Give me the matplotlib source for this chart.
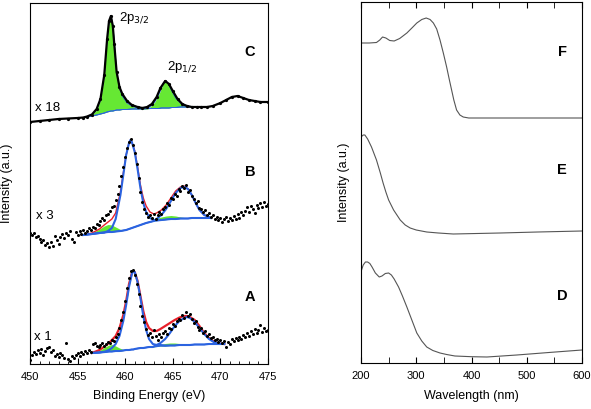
import numpy as np
import matplotlib
matplotlib.use("Agg")
import matplotlib.pyplot as plt
from matplotlib.ticker import MultipleLocator

plt.rcParams['font.family'] = ['Liberation Sans', 'DejaVu Sans']

# ---------------- XPS data (binding energy in eV, intensity in arbitrary offset units)
# spectrum C (x18): dense line
C_x = [450.0, 451.0, 452.0, 453.0, 454.0, 455.0, 455.6, 456.0, 456.5, 457.0, 457.4, 457.8,
       458.1, 458.3, 458.5, 458.7, 458.85, 459.1, 459.4, 459.7, 460.2, 460.7, 461.3, 461.8,
       462.3, 462.8, 463.3, 463.7, 464.2, 464.6, 465.0, 465.5, 466.0, 466.5, 467.0, 467.5,
       468.0, 468.6, 469.2, 470.0, 470.6, 471.2, 471.8, 472.4, 473.0, 473.6, 474.2, 475.0]
C_y = [242, 243, 244, 245, 245.5, 246, 246.5, 247.5, 249.5, 255, 265, 289,
       325, 343, 348, 338, 320, 292, 277, 270, 263, 259, 257, 256,
       257, 260, 267, 276, 283, 280, 273, 265, 260, 258, 257, 257,
       257, 257, 258, 261, 264, 267, 268, 266, 264, 263, 262, 262]

# spectrum B (x3) and A (x1): scattered points every 0.2 eV from 450 to 475
B_y = [131, 129, 131, 127, 128, 125, 122, 124, 119, 121,
       117, 122, 118, 128, 124, 120, 127, 130, 126, 131,
       129, 133, 125, 122, 132, 129, 133, 130, 134, 131,
       133, 136, 134, 137, 136, 140, 139, 143, 146, 144,
       149, 150, 153, 157, 158, 164, 170, 178, 188, 197,
       207, 216, 222, 225, 219, 211, 200, 186, 172, 162,
       155, 151, 147, 149, 146, 150, 145, 149, 152, 150,
       155, 157, 161, 159, 166, 165, 170, 168, 175, 173,
       178, 176, 179, 172, 174, 168, 165, 161, 163, 156,
       155, 152, 154, 149, 151, 147, 149, 145, 147, 144,
       146, 142, 145, 147, 143, 146, 144, 148, 145, 150,
       146, 152, 149, 153, 157, 152, 158, 155, 151, 159,
       156, 161, 157, 162, 158, 160]
A_y = [4, 9, 12, 10, 14, 11, 15, 9, 13, 16,
       17, 12, 14, 8, 10, 7, 11, 9, 6, 21,
       5, 3, 8, 6, 9, 11, 8, 12, 10, 13,
       11, 14, 12, 20, 21, 18, 17, 19, 21, 18,
       20, 22, 21, 24, 23, 27, 30, 36, 44, 52,
       63, 76, 86, 93, 94, 89, 80, 70, 58, 48,
       42, 35, 29, 31, 27, 34, 28, 24, 30, 27,
       31, 33, 30, 36, 35, 40, 38, 43, 45, 44,
       49, 46, 52, 48, 50, 45, 41, 43, 37, 34,
       36, 31, 33, 28, 30, 26, 27, 24, 25, 22,
       24, 21, 23, 17, 22, 20, 25, 23, 26, 24,
       27, 25, 29, 27, 31, 28, 33, 30, 35, 31,
       34, 39, 32, 36, 33, 34]
scan_x = np.round(450.0 + 0.2 * np.arange(len(B_y)), 1)

# fit curves for C
Cf_x = [455.6, 456.0, 456.5, 457.0, 457.4, 457.8, 458.1, 458.3, 458.5, 458.7, 458.9, 459.1,
        459.4, 459.7, 460.2, 460.7, 461.3, 462.0, 462.6, 463.1, 463.5, 463.8, 464.0, 464.2,
        464.4, 464.6, 464.9, 465.3, 465.8, 466.3, 466.8]
Cf_base = [246, 247, 248, 249, 250, 251, 252, 252.5, 253, 253, 253.5, 254,
           254, 254.5, 254.5, 255, 255, 255, 255.5, 255.5, 255.5, 256, 256, 256,
           256, 256, 256.5, 256.5, 257, 257, 257]
Cf_p1 = [246, 247.5, 249.5, 254, 264, 288, 324, 342, 348, 339, 316, 292,
         276, 268, 261, 258, 256, 255.5, 255.5, 255.5, 255.5, 256, 256, 256,
         256, 256, 256.5, 256.5, 257, 257, 257]
Cf_p2 = [246, 247, 248, 249, 250, 251, 252, 252.5, 253, 253, 253.5, 254,
         254, 254.5, 254.5, 255, 255, 255.5, 257, 262, 269, 276, 281, 283,
         282, 279, 273, 266, 261, 258.5, 257.5]

# fit curves for B
Bf_x = [455.6, 456.5, 457.3, 457.8, 458.2, 458.6, 459.0, 459.5, 459.8, 460.1, 460.4, 460.55,
        460.7, 461.0, 461.3, 461.6, 461.9, 462.2, 462.6, 463.0, 463.3, 463.8, 464.3, 464.8,
        465.3, 465.8, 466.2, 466.6, 467.0, 467.4, 467.8, 468.3, 468.8, 469.0]
Bf_base = [129, 130, 131, 131.5, 132, 132, 132.5, 133, 133.5, 134, 135, 135.5,
           136, 137, 138, 139, 140, 141, 142, 143, 143.5, 144, 144.5, 145,
           145, 145.5, 145.5, 145.5, 146, 146, 146, 146, 146, 146]
Bf_s1 = [129, 131, 135, 138, 139.5, 139, 137, 134.5, 133.5, 134, 135, 135.5,
         136, 137, 138, 139, 140, 141, 142, 143, 143.5, 144, 144.5, 145,
         145, 145.5, 145.5, 145.5, 146, 146, 146, 146, 146, 146]
Bf_s2 = [129, 130, 131, 131.5, 132, 132, 132.5, 133, 133.5, 134, 135, 135.5,
         136, 137, 138, 139, 140, 141, 142, 144, 145.5, 147, 148, 148.5,
         148, 147, 146.5, 145.5, 146, 146, 146, 146, 146, 146]
Bf_p1 = [129, 130, 131, 131.5, 133, 136, 145, 169, 189, 209, 221, 224,
         222, 212, 195, 176, 161, 152, 146, 144, 143.5, 144, 144.5, 145,
         145, 145.5, 145.5, 145.5, 146, 146, 146, 146, 146, 146]
Bf_p2 = [129, 130, 131, 131.5, 132, 132, 132.5, 133, 133.5, 134, 135, 135.5,
         136, 137, 138, 139, 140, 141, 142, 143, 145, 149, 155, 163,
         171, 176, 177, 175, 169, 161, 154, 149, 147, 146]
Bf_env = [129, 131, 135, 139, 142, 145, 151, 172, 191, 209, 221, 224,
          222, 213, 197, 179, 166, 158, 152, 150, 151, 154, 159, 166,
          173, 177, 178, 175, 169, 161, 154, 149, 147, 146]

# fit curves for A
Af_x = [456.5, 457.3, 457.9, 458.3, 458.6, 459.0, 459.4, 459.8, 460.1, 460.4, 460.7, 460.85,
        461.0, 461.3, 461.6, 461.9, 462.2, 462.5, 462.9, 463.3, 463.7, 464.2, 464.7, 465.2,
        465.7, 466.2, 466.5, 466.8, 467.3, 467.8, 468.3, 468.8, 469.3, 469.8, 470.4]
Af_base = [11, 11.5, 12, 12.5, 12.5, 13, 13, 13.5, 14, 14, 14.5, 14.5,
           15, 15.5, 16, 16, 16.5, 17, 17, 17.5, 18, 18, 18.5, 18.5,
           19, 19, 19, 19, 19.5, 19.5, 19.5, 20, 20, 20, 20]
Af_s1 = [11, 13.5, 17, 19, 19.5, 18, 16, 14.5, 14, 14, 14.5, 14.5,
         15, 15.5, 16, 16, 16.5, 17, 17, 17.5, 18, 18, 18.5, 18.5,
         19, 19, 19, 19, 19.5, 19.5, 19.5, 20, 20, 20, 20]
Af_s2 = [11, 11.5, 12, 12.5, 12.5, 13, 13, 13.5, 14, 14, 14.5, 14.5,
         15, 15.5, 16, 16, 16.5, 17, 17.5, 18.5, 19.5, 20.5, 21, 21,
         20.5, 20, 19.5, 19, 19.5, 19.5, 19.5, 20, 20, 20, 20]
Af_p1 = [11, 11.5, 12.5, 14, 16, 20, 28, 43, 59, 77, 90, 93,
         92, 82, 66, 48, 34, 25, 20, 19, 19, 18.5, 18.5, 18.5,
         19, 19, 19, 19, 19.5, 19.5, 19.5, 20, 20, 20, 20]
Af_p2 = [11, 11.5, 12, 12.5, 12.5, 13, 13, 13.5, 14, 14, 14.5, 14.5,
         15, 15.5, 16, 16, 16.5, 17, 17, 19, 21, 25, 31, 38,
         43, 46, 47, 46, 42, 36, 30, 25, 22, 20.5, 20]
Af_env = [11, 14, 18, 21, 24, 28, 36, 49, 63, 80, 91, 93,
          92, 83, 68, 53, 42, 36, 33, 33, 35, 38, 41, 44,
          46.5, 48, 48, 47, 44, 38, 31, 26, 22.5, 20.5, 20]

# ---------------- UV-vis data (wavelength in nm)
F_x = [200, 215, 228, 234, 239, 245, 252, 260, 270, 283, 293, 301, 310, 318, 325,
       331, 337, 343, 349, 355, 360, 364, 368, 373, 379, 385, 395, 403, 600]
F_y = [320, 320, 320.5, 323, 326, 325, 322.5, 322, 324.5, 330, 335.5, 340, 343.5, 345, 343.5,
       340, 334, 323, 310, 296, 283, 273, 263, 253, 248, 246, 245, 245, 245]
E_x = [200, 204, 207, 212, 219, 228, 235, 240, 245, 250, 259, 265, 271, 280, 289,
       300, 319, 340, 367, 452, 520, 600]
E_y = [226, 228, 228, 224, 216, 203, 190, 180, 171, 163, 153, 148, 143, 138, 135,
       133, 131, 130, 129, 130, 131, 132]
D_x = [201, 204, 208, 212, 216, 220, 226, 233, 238, 244, 250, 255, 260, 264, 268,
       275, 283, 292, 301, 310, 319, 330, 343, 355, 370, 400, 428, 455, 482, 540, 600]
D_y = [93, 98, 101, 101, 99.5, 96, 90, 86, 87, 89.5, 90, 88, 84, 80, 76,
       67, 56, 43, 30, 22, 16, 12.5, 10, 8.5, 7, 6.3, 6, 7, 8, 10.5, 13]

GREEN = '#66e833'
BLUE = '#2b63e0'
RED = '#e8202a'

fig = plt.figure(figsize=(5.91, 4.09), dpi=100)
ax1 = fig.add_axes([30/591, 45/409, 238/591, 361/409])
ax2 = fig.add_axes([361/591, 46/409, 221/591, 361/409])

# ----- left panel
for fx, base, comps in [(Cf_x, Cf_base, [Cf_p1, Cf_p2]),
                        (Bf_x, Bf_base, [Bf_s1, Bf_s2]),
                        (Af_x, Af_base, [Af_s1, Af_s2])]:
    for c in comps:
        ax1.fill_between(fx, base, c, color=GREEN, lw=0)

ax1.plot(Cf_x, Cf_base, color=BLUE, lw=0.7)
ax1.plot(Cf_x, Cf_p1, color=BLUE, lw=0.7)
ax1.plot(Cf_x, Cf_p2, color=BLUE, lw=0.7)
ax1.plot(C_x, C_y, color='black', lw=1.6, marker='o', ms=1.3)

ax1.plot(Bf_x, Bf_env, color=RED, lw=1.0)
ax1.plot(Bf_x, Bf_base, color=BLUE, lw=1.0)
ax1.plot(Bf_x, Bf_p1, color=BLUE, lw=1.5)
ax1.plot(Bf_x, Bf_p2, color=BLUE, lw=1.5)
ax1.plot(scan_x, B_y, 'o', color='black', ms=2.2, mew=0)

ax1.plot(Af_x, Af_env, color=RED, lw=1.6)
ax1.plot(Af_x, Af_base, color=BLUE, lw=1.0)
ax1.plot(Af_x, Af_p1, color=BLUE, lw=1.5)
ax1.plot(Af_x, Af_p2, color=BLUE, lw=1.5)
ax1.plot(scan_x, A_y, 'o', color='black', ms=2.2, mew=0)

ax1.set_xlim(450, 475)
ax1.set_ylim(0, 361)
ax1.set_yticks([])
ax1.xaxis.set_major_locator(MultipleLocator(5))
ax1.xaxis.set_minor_locator(MultipleLocator(1))
ax1.tick_params(axis='x', which='both', direction='in', labelsize=8, pad=6)
ax1.tick_params(axis='x', which='major', length=4)
ax1.tick_params(axis='x', which='minor', length=2.5)
ax1.set_xlabel('Binding Energy (eV)', fontsize=9)
ax1.set_ylabel('Intensity (a.u.)', fontsize=9)
ax1.xaxis.set_label_coords(0.5, -0.072)
ax1.yaxis.set_label_coords(-0.071, 0.5)

for lab, yy in [('C', 312), ('B', 192), ('A', 67)]:
    ax1.text(473.1, yy, lab, fontsize=10.5, fontweight='bold', ha='center', va='center')
for lab, xx, yy in [('x 18', 450.5, 256), ('x 3', 450.6, 148), ('x 1', 450.4, 27)]:
    ax1.text(xx, yy, lab, fontsize=9.5, ha='left', va='center')
ax1.text(459.4, 346, r'2p$_{3/2}$', fontsize=9.5, ha='left', va='center')
ax1.text(464.4, 297, r'2p$_{1/2}$', fontsize=9.5, ha='left', va='center')

# ----- right panel
for xs, ys in [(F_x, F_y), (E_x, E_y), (D_x, D_y)]:
    ax2.plot(xs, ys, color='#555555', lw=0.8)

ax2.set_xlim(200, 600)
ax2.set_ylim(0, 361)
ax2.set_yticks([])
ax2.xaxis.set_major_locator(MultipleLocator(100))
ax2.xaxis.set_minor_locator(MultipleLocator(50))
ax2.tick_params(axis='x', which='both', direction='in', top=True, length=4, labelsize=8, pad=6)
ax2.set_xlabel('Wavelength (nm)', fontsize=9)
ax2.set_ylabel('Intensity (a.u.)', fontsize=9)
ax2.xaxis.set_label_coords(0.5, -0.075)
ax2.yaxis.set_label_coords(-0.05, 0.5)

for lab, yy in [('F', 311), ('E', 193), ('D', 67)]:
    ax2.text(564, yy, lab, fontsize=10.5, fontweight='bold', ha='center', va='center')

for ax in (ax1, ax2):
    for s in ax.spines.values():
        s.set_linewidth(0.8)

fig.savefig('out.png', dpi=100)
